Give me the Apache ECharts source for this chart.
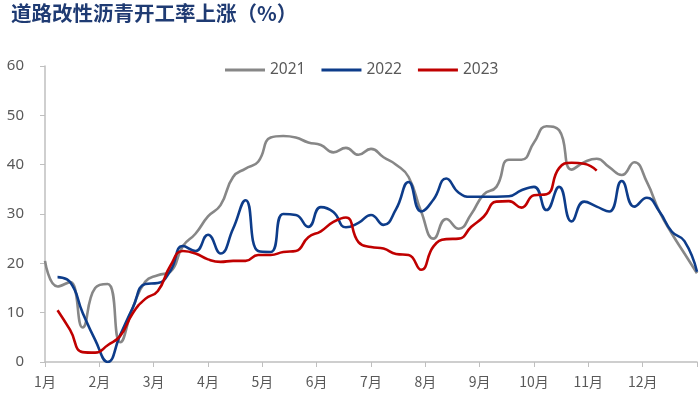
<!DOCTYPE html>
<html>
<head>
<meta charset="utf-8">
<script src="https://cdn.jsdelivr.net/npm/echarts@6/dist/echarts.min.js"></script>
<style>
  html, body { margin: 0; padding: 0; background: #fff; }
  #chart { width: 700px; height: 406px; }
</style>
</head>
<body>
<div id="chart"></div>
<script>
// weekly operating-rate values, week 0..52 (null = no data)
const months = ['1月', '2月', '3月', '4月', '5月', '6月', '7月', '8月', '9月', '10月', '11月', '12月']

const y2021 = [
  20.5, 15.3, 16.2, 7, 15, 15.8, 4, 11, 16.3, 17.6,
  18.3, 23.5, 26, 29.5, 31.8, 37.5, 39.2, 40.6, 45.5, 45.8,
  45.5, 44.5, 44, 42.5, 43.4, 42, 43.2, 41.5, 40, 37.5,
  30.5, 25, 29, 27, 30, 34, 35.5, 41, 41, 44.5,
  47.8, 47, 39, 40.5, 41.2, 39.5, 37.9, 40.5, 36.5, 30.5,
  26, 22, 18
]

const y2022 = [
  null, 17.2, 16.2, 10, 4.5, 0, 5.5, 11, 15.8, 16,
  18.5, 23.5, 22.5, 25.8, 22, 27, 32.8, 22.5, 22.3, 30,
  29.8, 27.4, 31.4, 30.4, 27.3, 28.2, 29.8, 27.8, 31, 36.5,
  30.5, 33, 37.2, 34.3, 33.5, 33.5, 33.5, 33.6, 34.8, 35.5,
  30.8, 35.5, 28.5, 32.5, 31.5, 30.5, 36.7, 31.5, 33.3, 30.5,
  26.4, 24.5, 18.3
]

const y2023 = [
  null, 10.5, 6.5, 2, 1.9, 3.4, 5.3, 9.9, 12.8, 14.4,
  19.5, 22.5, 22, 20.8, 20.3, 20.5, 20.5, 21.7, 21.7, 22.3,
  22.5, 25.3, 26.5, 28.4, 29.3, 24.3, 23.3, 23, 21.9, 21.7,
  18.7, 23.5, 24.9, 25, 27.4, 29.5, 32.5, 32.6, 31.3, 33.8,
  34, 39.3, 40.4, 40.2, 38.8
]

const weeksPerYear = 52

const toPoints = arr => arr
  .map((v, i) => [i * 12 / weeksPerYear, v])
  .filter(p => p[1] !== null)

const chart = echarts.init(document.getElementById('chart'))

const lineSeries = (name, data, color) => ({
  name: name,
  type: 'line',
  data: toPoints(data),
  smooth: 0.5,
  showSymbol: false,
  symbol: 'none',
  lineStyle: { color: color, width: 2.6 },
  itemStyle: { color: color }
})

const option = {
  animation: false,
  title: {
    text: '道路改性沥青开工率上涨（%）',
    left: 6,
    top: -2,
    textStyle: {
      fontFamily: 'Noto Sans CJK SC',
      fontSize: 20.5,
      fontWeight: 'bold',
      color: '#1f3b73'
    }
  },
  legend: {
    data: ['2021', '2022', '2023'],
    top: 57,
    left: 220,
    itemWidth: 40,
    itemHeight: 3,
    itemGap: 16,
    icon: 'rect',
    textStyle: { fontFamily: 'Noto Sans', fontSize: 15.5, color: '#595959' }
  },
  grid: { left: 45, right: 2, top: 66, bottom: 44 },
  xAxis: {
    type: 'value',
    min: 0,
    max: 12,
    interval: 1,
    splitLine: { show: false },
    axisLine: { lineStyle: { color: '#bfbfbf', width: 1.5 } },
    axisTick: { length: 5, lineStyle: { color: '#bfbfbf' } },
    axisLabel: {
      fontFamily: 'Noto Sans CJK SC',
      fontSize: 14,
      color: '#595959',
      margin: 13,
      formatter: v => (v < 12 ? months[v] : '')
    }
  },
  yAxis: {
    type: 'value',
    min: 0,
    max: 60,
    interval: 10,
    splitLine: { show: false },
    axisLine: { show: true, lineStyle: { color: '#bfbfbf', width: 1.5 } },
    axisTick: { show: true, length: 5, lineStyle: { color: '#bfbfbf' } },
    axisLabel: { fontFamily: 'Noto Sans', fontSize: 15, color: '#595959', margin: 21 }
  },
  series: [
    lineSeries('2021', y2021, '#878787'),
    lineSeries('2022', y2022, '#0d3c8a'),
    lineSeries('2023', y2023, '#c00000')
  ]
}

chart.setOption(option)
window.addEventListener('resize', () => chart.resize())
</script>
</body>
</html>
